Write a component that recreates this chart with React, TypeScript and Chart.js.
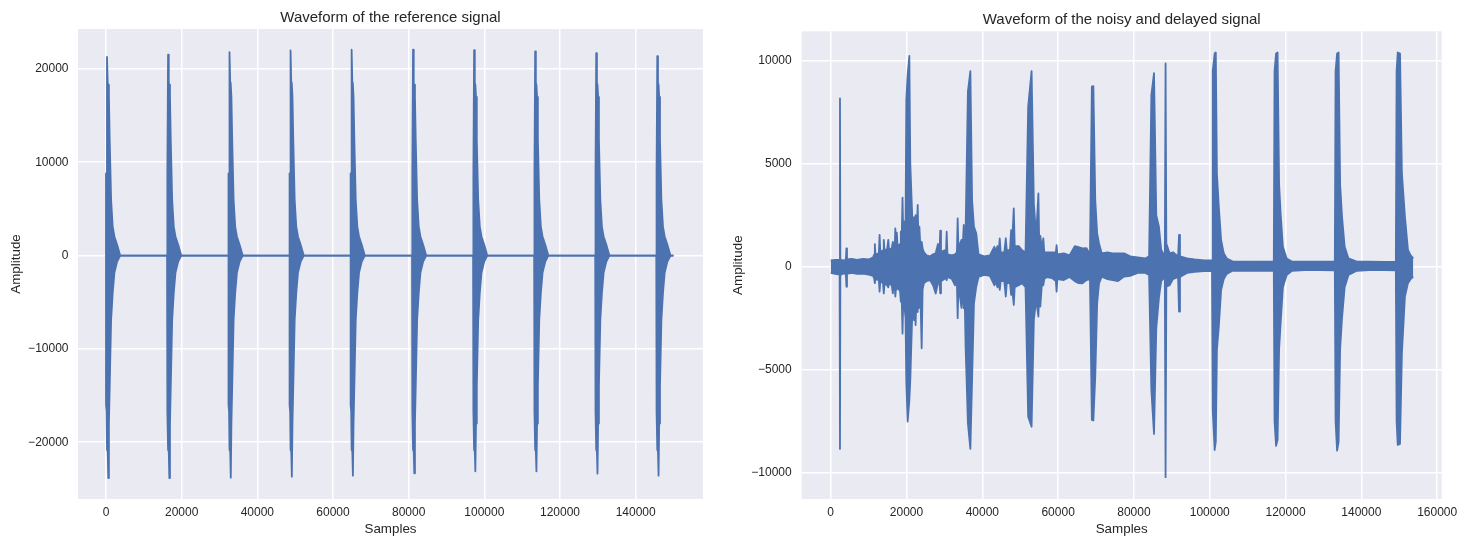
import React, { useEffect, useRef } from "react";
import { Chart, registerables } from "chart.js";

Chart.register(...registerables);

const FONT = "'Liberation Sans', Arial, Helvetica, sans-serif";
const TEXT = "#262626";
const LINE = "#4C72B0";
const FACE = "#EAEAF2";

// ---------- Left chart: reference signal ----------
const refTitle = "Waveform of the reference signal";
const refXTicks = [0, 20000, 40000, 60000, 80000, 100000, 120000, 140000];
const refYTicks = [-20000, -10000, 0, 10000, 20000];
// onset sample of each burst
const refStarts = [0, 16140, 32380, 48520, 64660, 80890, 97030, 113170, 129310, 145450];
// per-burst extremes
const refPeaks = [21270, 21510, 21800, 21970, 22050, 22050, 22010, 21870, 21690, 21370];
const refTroughs = [-23830, -23830, -23790, -23690, -23580, -23320, -23110, -23110, -23360, -23580];
// envelope of a burst (first burst), offsets in samples from onset
const refShapeOffsets = [0, 0, 150, 265, 450, 600, 770, 980, 1350, 1770, 2220, 2940, 3750];
const refShapeUpper = [0, 8800, 8800, 21270, 18500, 18300, 17000, 12400, 5970, 3100, 2040, 1150, 0];
const refShapeLower = [0, -16000, -16700, -20800, -21000, -23830, -18000, -14000, -6900, -4000, -1860, -640, 0];
const refEnd = 150000;

// ---------- Right chart: noisy and delayed signal (upper / lower envelope) ----------
const noisyTitle = "Waveform of the noisy and delayed signal";
const noisyXTicks = [0, 20000, 40000, 60000, 80000, 100000, 120000, 140000, 160000];
const noisyYTicks = [-10000, -5000, 0, 5000, 10000];
const noisyX = [
  0, 1200, 2350, 2450, 2550, 3400, 4000, 4150, 4300, 5500,
  7000, 8500, 10000, 11200, 11500, 11650, 11800, 12700, 12900, 13100,
  13800, 14000, 14200, 14900, 15200, 15400, 16100, 16400, 16600, 16900,
  17050, 17250, 17450, 17650, 18300, 18500, 18700, 18950, 19150, 19500,
  19750, 19950, 20300, 20750, 21000, 21400, 21700, 22000, 22200, 22400,
  22650, 22950, 23150, 23400, 23650, 24000, 24250, 24600, 25300, 26200,
  27000, 27700, 28300, 28700, 28900, 29100, 30000, 30400, 30600, 30800,
  32000, 32800, 33300, 33500, 33700, 34500, 34800, 35100, 35300, 35600,
  36200, 36850, 37300, 37800, 38400, 39000, 40500, 42000, 43200, 43500,
  44000, 44300, 44600, 44850, 45800, 46200, 46450, 47300, 47600, 47800,
  48300, 48550, 49600, 50500, 51400, 52100, 53000, 53600, 54200, 54800,
  55000, 55300, 55700, 56100, 56350, 57000, 58400, 59400, 59600, 59800,
  61500, 63000, 64400, 65400, 66400, 67500, 68400, 68900, 69300, 69800,
  70300, 70800, 71500, 73000, 74400, 75800, 77400, 79000, 81000, 83000,
  84000, 84600, 85300, 85900, 86600, 87200, 88150, 88350, 88550, 89400,
  90300, 91650, 91900, 92150, 94000, 96000, 98500, 100600, 100800, 101300,
  101600, 101900, 102400, 103000, 103700, 104500, 106000, 110000, 114000, 116900,
  117100, 117500, 117900, 118300, 118700, 119300, 120300, 121700, 125000, 129000,
  133000, 133200, 133600, 134000, 134400, 134900, 135600, 136600, 138800, 142000,
  146000, 149100, 149300, 149600, 150200, 150700, 151500, 152300, 153000, 153700,
];
const noisyUpper = [
  300, 330, 330, 8170, 350, 300, 350, 890, 350, 380,
  330, 380, 350, 450, 600, 1100, 600, 650, 1540, 700,
  800, 1300, 800, 850, 1300, 800, 900, 1200, 900, 1000,
  1860, 1000, 1650, 1000, 1100, 1700, 1200, 3350, 1500, 2200,
  2000, 8090, 9300, 10230, 5000, 3000, 1500, 2400, 1500, 2500,
  1300, 3000, 1300, 1940, 1000, 1200, 900, 700, 550, 500,
  600, 650, 1100, 700, 1750, 700, 800, 600, 1700, 600,
  550, 600, 700, 2350, 900, 1300, 900, 2025, 1000, 1800,
  8500, 9500, 3240, 1940, 1620, 600, 500, 550, 970, 700,
  1000, 700, 1370, 700, 700, 1380, 800, 800, 1780, 900,
  2830, 1000, 1000, 800, 700, 7770, 9500, 3070, 1500, 3560,
  1300, 1500, 900, 1380, 700, 700, 700, 700, 1050, 600,
  650, 550, 1000, 950, 890, 900, 600, 8740, 8770, 3240,
  1620, 1130, 650, 700, 650, 650, 650, 500, 450, 400,
  500, 8330, 9400, 2500, 1940, 810, 500, 9870, 1130, 650,
  700, 500, 1540, 500, 400, 350, 300, 300, 9500, 10350,
  10400, 4500, 2900, 1300, 650, 400, 260, 250, 250, 260,
  9500, 10350, 10400, 4000, 2590, 970, 400, 250, 240, 240,
  240, 9500, 10350, 10400, 4000, 2430, 970, 400, 250, 240,
  230, 250, 9500, 10400, 10350, 4530, 2430, 810, 550, 400,
];
const noisyLower = [
  -300, -350, -380, -8850, -400, -330, -350, -970, -350, -300,
  -350, -330, -380, -450, -600, -800, -600, -650, -1210, -700,
  -800, -1300, -850, -900, -1000, -800, -900, -1300, -950, -1000,
  -1450, -1000, -1100, -1000, -1200, -1700, -1200, -3250, -1500, -2000,
  -2500, -5580, -7520, -6500, -5500, -3000, -1500, -2600, -1500, -2830,
  -1300, -2200, -1300, -2000, -1200, -3960, -1100, -800, -700, -650,
  -900, -1300, -800, -700, -1290, -700, -600, -550, -650, -500,
  -600, -900, -800, -2500, -900, -2000, -900, -2020, -1000, -3960,
  -7600, -8850, -5500, -1780, -970, -500, -400, -450, -900, -700,
  -1000, -700, -1130, -700, -700, -1450, -800, -800, -1370, -900,
  -1860, -1000, -900, -800, -1000, -7280, -7770, -2590, -1600, -2420,
  -1300, -1940, -900, -900, -600, -500, -550, -700, -1210, -600,
  -650, -500, -700, -800, -810, -650, -600, -7440, -7470, -5340,
  -1780, -810, -480, -600, -650, -700, -480, -450, -300, -300,
  -400, -6000, -8120, -3000, -1500, -700, -500, -10220, -970, -900,
  -600, -500, -2180, -500, -300, -250, -220, -200, -7000, -8900,
  -8500, -4000, -2900, -1130, -600, -350, -200, -200, -190, -200,
  -7500, -8700, -8400, -4000, -2750, -1000, -400, -200, -170, -170,
  -180, -7500, -8930, -8500, -4000, -2500, -1000, -400, -200, -170,
  -170, -180, -7500, -8650, -8600, -4200, -1450, -800, -600, -480,
];

type Pt = { x: number; y: number };

function buildRef(): { upper: Pt[]; lower: Pt[] } {
  const upper: Pt[] = [];
  const lower: Pt[] = [];
  const peakIdx = refShapeUpper.indexOf(Math.max(...refShapeUpper));
  const troughIdx = refShapeLower.indexOf(Math.min(...refShapeLower));
  refStarts.forEach((s, b) => {
    refShapeOffsets.forEach((o, i) => {
      upper.push({ x: s + o, y: i === peakIdx ? refPeaks[b] : refShapeUpper[i] });
      lower.push({ x: s + o, y: i === troughIdx ? refTroughs[b] : refShapeLower[i] });
    });
  });
  upper.push({ x: refEnd, y: 0 });
  lower.push({ x: refEnd, y: 0 });
  return { upper, lower };
}

function buildNoisy(): { upper: Pt[]; lower: Pt[] } {
  return {
    upper: noisyX.map((x, i) => ({ x, y: noisyUpper[i] })),
    lower: noisyX.map((x, i) => ({ x, y: noisyLower[i] })),
  };
}

const fmt = (v: number | string) => {
  const n = Number(v);
  return n < 0 ? "\u2212" + String(Math.abs(n)) : String(n);
};

const facePlugin = {
  id: "face",
  beforeDraw(chart: any) {
    const { ctx, chartArea } = chart;
    ctx.save();
    ctx.fillStyle = FACE;
    ctx.fillRect(chartArea.left, chartArea.top, chartArea.right - chartArea.left, chartArea.bottom - chartArea.top);
    ctx.restore();
  },
};

const titlePlugin = {
  id: "plotTitle",
  afterDraw(chart: any, _args: any, opts: any) {
    const { ctx, chartArea } = chart;
    ctx.save();
    ctx.font = `15px ${FONT}`;
    ctx.fillStyle = TEXT;
    ctx.textAlign = "center";
    ctx.textBaseline = "alphabetic";
    ctx.fillText(opts.text, (chartArea.left + chartArea.right) / 2, opts.baseline);
    ctx.restore();
  },
};

type Spec = {
  title: string;
  titleBaseline: number;
  upper: Pt[];
  lower: Pt[];
  xMin: number;
  xMax: number;
  xTicks: number[];
  yMin: number;
  yMax: number;
  yTicks: number[];
  padTop: number;
  padRight: number;
  yWidth: number;
  yTitlePad: number;
  yTickPad: number;
};

function makeConfig(s: Spec): any {
  const ds = (data: Pt[], fill: any) => ({
    data,
    borderColor: LINE,
    backgroundColor: LINE,
    borderWidth: 1.8,
    borderJoinStyle: "round",
    pointRadius: 0,
    tension: 0,
    fill,
  });
  return {
    type: "line",
    data: { datasets: [ds(s.upper, false), ds(s.lower, "-1")] },
    plugins: [facePlugin, titlePlugin],
    options: {
      animation: false,
      responsive: false,
      maintainAspectRatio: false,
      events: [],
      layout: { padding: { left: 0, right: s.padRight, top: s.padTop, bottom: 0 } },
      plugins: {
        legend: { display: false },
        tooltip: { enabled: false },
        title: { display: false },
        plotTitle: { text: s.title, baseline: s.titleBaseline },
      },
      scales: {
        x: {
          type: "linear",
          min: s.xMin,
          max: s.xMax,
          afterBuildTicks: (axis: any) => {
            axis.ticks = s.xTicks.map((v) => ({ value: v }));
          },
          afterFit: (axis: any) => {
            axis.height = 44;
          },
          grid: { color: "#ffffff", lineWidth: 1.5, drawTicks: false },
          border: { display: false },
          ticks: {
            padding: 6,
            color: TEXT,
            autoSkip: false,
            maxRotation: 0,
            font: { family: FONT, size: 12 },
            callback: (v: any) => fmt(v),
          },
          title: {
            display: true,
            text: "Samples",
            color: TEXT,
            font: { family: FONT, size: 13.4 },
            padding: { top: 0, bottom: 6 },
          },
        },
        y: {
          type: "linear",
          min: s.yMin,
          max: s.yMax,
          afterBuildTicks: (axis: any) => {
            axis.ticks = s.yTicks.map((v) => ({ value: v }));
          },
          afterFit: (axis: any) => {
            axis.width = s.yWidth;
          },
          grid: { color: "#ffffff", lineWidth: 1.5, drawTicks: false },
          border: { display: false },
          ticks: {
            padding: s.yTickPad,
            color: TEXT,
            autoSkip: false,
            font: { family: FONT, size: 12 },
            callback: (v: any) => fmt(v),
          },
          title: {
            display: true,
            text: "Amplitude",
            color: TEXT,
            font: { family: FONT, size: 13.4 },
            padding: { top: s.yTitlePad, bottom: 0 },
          },
        },
      },
    },
  };
}

function WaveChart({ left, width, spec }: { left: number; width: number; spec: Spec }) {
  const ref = useRef<HTMLCanvasElement | null>(null);
  useEffect(() => {
    if (!ref.current) return;
    const chart = new Chart(ref.current, makeConfig(spec));
    return () => chart.destroy();
  }, []);
  return (
    <canvas
      ref={ref}
      width={width}
      height={543}
      style={{ position: "absolute", left, top: 0, width, height: 543 }}
    />
  );
}

export default function App() {
  const refData = buildRef();
  const noisyData = buildNoisy();
  const leftSpec: Spec = {
    title: refTitle,
    titleBaseline: 22,
    upper: refData.upper,
    lower: refData.lower,
    xMin: -7400,
    xMax: 157800,
    xTicks: refXTicks,
    yMin: -26080,
    yMax: 24270,
    yTicks: refYTicks,
    padTop: 29,
    padRight: 17,
    yWidth: 78,
    yTitlePad: 8,
    yTickPad: 9.5,
  };
  const rightSpec: Spec = {
    title: noisyTitle,
    titleBaseline: 24,
    upper: noisyData.upper,
    lower: noisyData.lower,
    xMin: -7650,
    xMax: 161200,
    xTicks: noisyXTicks,
    yMin: -11280,
    yMax: 11430,
    yTicks: noisyYTicks,
    padTop: 31.3,
    padRight: 38.3,
    yWidth: 81.7,
    yTitlePad: 10.3,
    yTickPad: 10,
  };
  return (
    <div style={{ position: "absolute", left: 0, top: 0, width: 1480, height: 543, background: "#ffffff" }}>
      <WaveChart left={0} width={720} spec={leftSpec} />
      <WaveChart left={720} width={760} spec={rightSpec} />
    </div>
  );
}
